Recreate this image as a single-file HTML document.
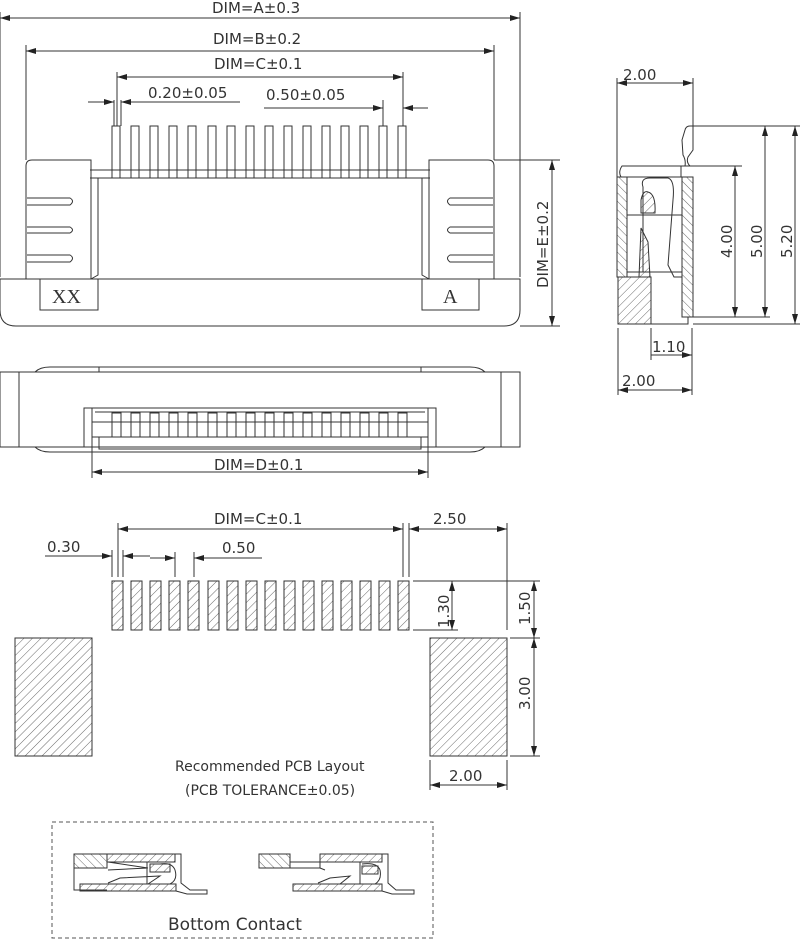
<!DOCTYPE html>
<html><head><meta charset="utf-8"><style>
html,body{margin:0;padding:0;background:#fff;}
svg{display:block;}
text{font-family:"DejaVu Sans","Liberation Sans",sans-serif;fill:#333;}
</style></head><body>
<svg width="800" height="939" viewBox="0 0 800 939" xmlns="http://www.w3.org/2000/svg">
<defs>
<pattern id="h" width="6" height="6" patternUnits="userSpaceOnUse" patternTransform="rotate(45)"><line x1="0" y1="0" x2="0" y2="6" stroke="#444" stroke-width="0.8"/></pattern>
<pattern id="h2" width="6" height="6" patternUnits="userSpaceOnUse" patternTransform="rotate(-45)"><line x1="0" y1="0" x2="0" y2="6" stroke="#444" stroke-width="0.8"/></pattern>
<marker id="a" viewBox="0 0 10 6" refX="10" refY="3" markerWidth="10" markerHeight="6" orient="auto-start-reverse" markerUnits="userSpaceOnUse"><path d="M0,0 L10,3 L0,6z" fill="#222"/></marker>
</defs>
<g stroke="#333" stroke-width="1" fill="none">
<!-- top dims -->
<line x1="0" y1="18" x2="520" y2="18" marker-start="url(#a)" marker-end="url(#a)"/>
<line x1="0" y1="12" x2="0" y2="277"/><line x1="520" y1="12" x2="520" y2="277"/>
<line x1="26" y1="51" x2="494" y2="51" marker-start="url(#a)" marker-end="url(#a)"/>
<line x1="26" y1="45" x2="26" y2="160"/><line x1="494" y1="45" x2="494" y2="160"/>
<line x1="117" y1="77" x2="403" y2="77" marker-start="url(#a)" marker-end="url(#a)"/>
<line x1="117" y1="72" x2="117" y2="126"/><line x1="403" y1="72" x2="403" y2="126"/>
<line x1="88" y1="102" x2="114" y2="102" marker-end="url(#a)"/><line x1="146" y1="102" x2="121" y2="102" marker-end="url(#a)"/><line x1="133" y1="102" x2="240" y2="102"/>
<line x1="264" y1="108" x2="383" y2="108" marker-end="url(#a)"/><line x1="428" y1="108" x2="403" y2="108" marker-end="url(#a)"/>
<line x1="114" y1="100" x2="114" y2="126"/><line x1="121" y1="100" x2="121" y2="126"/><line x1="383" y1="100" x2="383" y2="126"/>
<!-- pins top view -->
<g>
<rect x="112" y="126" width="8" height="52"/><rect x="131" y="126" width="8" height="52"/><rect x="150" y="126" width="8" height="52"/><rect x="169" y="126" width="8" height="52"/><rect x="188" y="126" width="8" height="52"/><rect x="208" y="126" width="8" height="52"/><rect x="227" y="126" width="8" height="52"/><rect x="246" y="126" width="8" height="52"/><rect x="265" y="126" width="8" height="52"/><rect x="284" y="126" width="8" height="52"/><rect x="303" y="126" width="8" height="52"/><rect x="322" y="126" width="8" height="52"/><rect x="341" y="126" width="8" height="52"/><rect x="360" y="126" width="8" height="52"/><rect x="379" y="126" width="8" height="52"/><rect x="398" y="126" width="8" height="52"/>
</g>
<line x1="90" y1="170" x2="430" y2="170"/>
<line x1="90" y1="178" x2="430" y2="178"/>
<!-- latches -->
<path d="M91,160 H32 Q26,160 26,166 V279 H91z"/>
<path d="M91,178 H98 V275 L91,279"/>
<path d="M27,198 H70 Q75,201 70,205 H27 M27,227 H70 Q75,230 70,233 H27 M27,255 H70 Q75,258 70,262 H27"/>
<path d="M429,160 H488 Q494,160 494,166 V279 H429z"/>
<path d="M429,178 H422 V275 L429,279"/>
<path d="M493,198 H450 Q445,201 450,205 H493 M493,227 H450 Q445,230 450,233 H493 M493,255 H450 Q445,258 450,262 H493"/>
<line x1="494" y1="160" x2="560" y2="160"/>
<!-- base -->
<path d="M0,279 H520 V310 Q520,326 504,326 H16 Q0,326 0,310z"/>
<rect x="40" y="279" width="58" height="31"/>
<rect x="422" y="279" width="57" height="31"/>
<line x1="520" y1="326" x2="560" y2="326"/>
<line x1="552" y1="160" x2="552" y2="326" marker-start="url(#a)" marker-end="url(#a)"/>
<!-- front view -->
<path d="M0,372 H520 V447 H0z"/>
<line x1="19" y1="372" x2="19" y2="447"/><line x1="501" y1="372" x2="501" y2="447"/>
<path d="M35,372 Q40,367 50,367 H470 Q480,367 485,372"/>
<path d="M35,447 Q40,452 50,452 H470 Q480,452 485,447"/>
<line x1="99" y1="367" x2="99" y2="372"/><line x1="421" y1="367" x2="421" y2="372"/>
<path d="M84,447 V408 H436 V447"/>
<line x1="92" y1="408" x2="92" y2="478"/><line x1="428" y1="408" x2="428" y2="478"/>
<line x1="95" y1="412" x2="425" y2="412"/>
<line x1="92" y1="422" x2="428" y2="422"/>
<line x1="92" y1="437" x2="428" y2="437"/>
<rect x="99" y="437" width="322" height="12"/>
<g>
<rect x="112" y="413" width="9" height="24"/><rect x="131" y="413" width="9" height="24"/><rect x="150" y="413" width="9" height="24"/><rect x="169" y="413" width="9" height="24"/><rect x="188" y="413" width="9" height="24"/><rect x="208" y="413" width="9" height="24"/><rect x="227" y="413" width="9" height="24"/><rect x="246" y="413" width="9" height="24"/><rect x="265" y="413" width="9" height="24"/><rect x="284" y="413" width="9" height="24"/><rect x="303" y="413" width="9" height="24"/><rect x="322" y="413" width="9" height="24"/><rect x="341" y="413" width="9" height="24"/><rect x="360" y="413" width="9" height="24"/><rect x="379" y="413" width="9" height="24"/><rect x="398" y="413" width="9" height="24"/>
</g>
<line x1="92" y1="472" x2="428" y2="472" marker-start="url(#a)" marker-end="url(#a)"/>
<!-- side view -->
<line x1="617" y1="83" x2="693" y2="83" marker-start="url(#a)" marker-end="url(#a)"/>
<line x1="617" y1="78" x2="617" y2="177"/><line x1="693" y1="78" x2="693" y2="126"/>
<rect x="617" y="177" width="10" height="100" fill="url(#h2)"/>
<rect x="682" y="177" width="11" height="140" fill="url(#h2)"/>
<rect x="618" y="277" width="33" height="47" fill="url(#h)"/>
<path d="M651,277 V324 H688 V317"/>
<path d="M621,177 Q618,172 622,166 H681 V177 H617"/>
<path d="M685,166 Q686,160 683,155 L682,140 L685,130 Q686,126 690,126 H693"/>
<path d="M693,126 V150 L688,157 Q686,162 690,166"/>
<line x1="627" y1="215" x2="682" y2="215"/>
<path d="M630,272 H643 V187 Q640,178 650,178 H668 Q675,180 673,200 L668,265 L674,277 L682,277"/>
<path d="M641,213 V200 Q643,190 648,192 Q656,194 655,213z" fill="url(#h)"/>
<path d="M639,277 L641,228 L648,242 L650,277z" fill="url(#h)"/>
<line x1="627" y1="272" x2="682" y2="272"/>
<line x1="693" y1="126" x2="800" y2="126"/>
<line x1="681" y1="166" x2="742" y2="166"/>
<line x1="693" y1="317" x2="770" y2="317"/>
<line x1="693" y1="324" x2="800" y2="324"/>
<line x1="735" y1="166" x2="735" y2="317" marker-start="url(#a)" marker-end="url(#a)"/>
<line x1="765" y1="126" x2="765" y2="317" marker-start="url(#a)" marker-end="url(#a)"/>
<line x1="795" y1="126" x2="795" y2="324" marker-start="url(#a)" marker-end="url(#a)"/>
<line x1="618" y1="328" x2="618" y2="395"/><line x1="651" y1="328" x2="651" y2="360"/><line x1="692" y1="328" x2="692" y2="395"/>
<line x1="651" y1="355" x2="692" y2="355" marker-end="url(#a)"/>
<line x1="618" y1="390" x2="692" y2="390" marker-start="url(#a)" marker-end="url(#a)"/>
<!-- PCB layout -->
<line x1="118" y1="529" x2="403" y2="529" marker-start="url(#a)" marker-end="url(#a)"/>
<line x1="118" y1="523" x2="118" y2="577"/><line x1="403" y1="523" x2="403" y2="577"/><line x1="409" y1="523" x2="409" y2="577"/>
<line x1="409" y1="529" x2="507" y2="529" marker-start="url(#a)" marker-end="url(#a)"/>
<line x1="507" y1="523" x2="507" y2="630"/>
<line x1="45" y1="556" x2="112" y2="556" marker-end="url(#a)"/><line x1="150" y1="556" x2="123" y2="556" marker-end="url(#a)"/>
<line x1="112" y1="550" x2="112" y2="577"/><line x1="123" y1="550" x2="123" y2="577"/>
<line x1="150" y1="558" x2="175" y2="558" marker-end="url(#a)"/><line x1="262" y1="558" x2="194" y2="558" marker-end="url(#a)"/>
<line x1="175" y1="552" x2="175" y2="577"/><line x1="194" y1="552" x2="194" y2="577"/>
<g fill="url(#h)">
<rect x="112" y="581" width="11" height="49"/><rect x="131" y="581" width="11" height="49"/><rect x="150" y="581" width="11" height="49"/><rect x="169" y="581" width="11" height="49"/><rect x="188" y="581" width="11" height="49"/><rect x="208" y="581" width="11" height="49"/><rect x="227" y="581" width="11" height="49"/><rect x="246" y="581" width="11" height="49"/><rect x="265" y="581" width="11" height="49"/><rect x="284" y="581" width="11" height="49"/><rect x="303" y="581" width="11" height="49"/><rect x="322" y="581" width="11" height="49"/><rect x="341" y="581" width="11" height="49"/><rect x="360" y="581" width="11" height="49"/><rect x="379" y="581" width="11" height="49"/><rect x="398" y="581" width="11" height="49"/>
<rect x="15" y="638" width="77" height="118"/>
<rect x="430" y="638" width="77" height="118"/>
</g>
<line x1="413" y1="581" x2="540" y2="581"/><line x1="413" y1="630" x2="458" y2="630"/>
<line x1="510" y1="638" x2="540" y2="638"/><line x1="510" y1="756" x2="540" y2="756"/>
<line x1="452" y1="581" x2="452" y2="630" marker-start="url(#a)" marker-end="url(#a)"/>
<line x1="534" y1="581" x2="534" y2="638" marker-start="url(#a)" marker-end="url(#a)"/>
<line x1="534" y1="638" x2="534" y2="756" marker-start="url(#a)" marker-end="url(#a)"/>
<line x1="430" y1="760" x2="430" y2="790"/><line x1="507" y1="760" x2="507" y2="790"/>
<line x1="430" y1="785" x2="507" y2="785" marker-start="url(#a)" marker-end="url(#a)"/>
<!-- bottom contact -->
<rect x="52" y="822" width="381" height="116" stroke-dasharray="4,3" stroke="#555"/>
<rect x="74" y="854" width="33" height="14" fill="url(#h2)"/>
<path d="M74,868 V890 H107"/>
<rect x="107" y="854" width="68" height="8" fill="url(#h)"/>
<rect x="80" y="884" width="96" height="7" fill="url(#h)"/>
<path d="M108,862 L148,868 L108,870 M108,883 L120,878 L160,876 L148,884 M147,862 V884 H170 Q178,880 175,870 Q172,862 160,864"/>
<rect x="150" y="864" width="20" height="8" fill="url(#h)"/>
<path d="M175,854 H181 V883 L190,890 H207 V894 H187 L176,891"/>
<rect x="259" y="854" width="31" height="14" fill="url(#h2)"/>
<path d="M290,862 H320 V868 H290"/>
<rect x="320" y="854" width="62" height="8" fill="url(#h)"/>
<rect x="293" y="884" width="89" height="7" fill="url(#h)"/>
<path d="M320,868 L325,870 M318,883 L330,878 L350,876 L340,884 M360,862 V884 H375 Q382,880 380,870 Q377,862 362,864"/>
<rect x="362" y="866" width="16" height="8" fill="url(#h)"/>
<path d="M382,854 H388 V883 L396,890 H414 V894 H392 L382,891"/>
</g>
<g font-size="15">
<text x="212" y="13">DIM=A±0.3</text>
<text x="213" y="44">DIM=B±0.2</text>
<text x="214" y="69">DIM=C±0.1</text>
<text x="148" y="98">0.20±0.05</text>
<text x="266" y="100">0.50±0.05</text>
<text x="214" y="470">DIM=D±0.1</text>
<text x="623" y="80">2.00</text>
<text x="652" y="352">1.10</text>
<text x="622" y="386">2.00</text>
<text transform="translate(732,258) rotate(-90)">4.00</text>
<text transform="translate(762,258) rotate(-90)">5.00</text>
<text transform="translate(792,258) rotate(-90)">5.20</text>
<text transform="translate(548,288) rotate(-90)">DIM=E±0.2</text>
<text x="214" y="524">DIM=C±0.1</text>
<text x="433" y="524">2.50</text>
<text x="47" y="552">0.30</text>
<text x="222" y="553">0.50</text>
<text transform="translate(449,628) rotate(-90)">1.30</text>
<text transform="translate(530,625) rotate(-90)">1.50</text>
<text transform="translate(530,710) rotate(-90)">3.00</text>
<text x="449" y="781">2.00</text>
</g>
<g font-family="Liberation Serif,serif" font-size="20">
<text x="52" y="303" style="font-family:'Liberation Serif',serif">XX</text>
<text x="443" y="303" style="font-family:'Liberation Serif',serif">A</text>
</g>
<text x="175" y="771" font-size="14">Recommended PCB Layout</text>
<text x="185" y="795" font-size="14">(PCB TOLERANCE±0.05)</text>
<text x="168" y="930" font-size="17">Bottom Contact</text>
</svg>
</body></html>
